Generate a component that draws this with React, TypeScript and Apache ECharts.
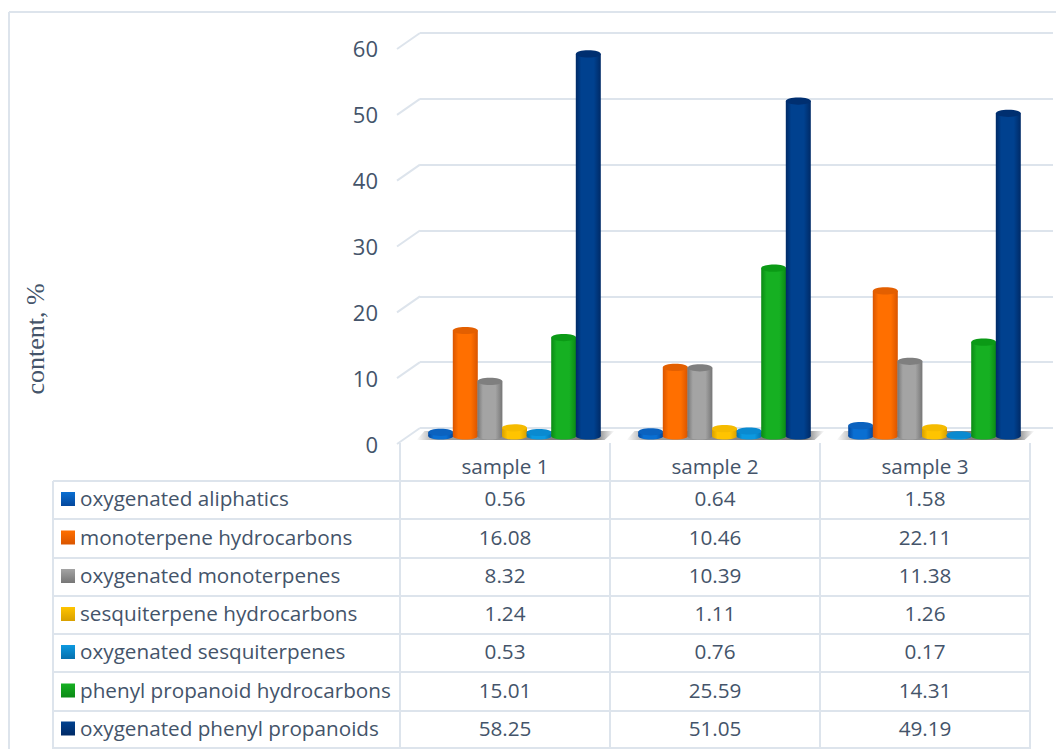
import React, { useEffect, useRef } from "react";
import * as echarts from "echarts";

const samples = ["sample 1", "sample 2", "sample 3"];
const groups = [
  "oxygenated aliphatics",
  "monoterpene hydrocarbons",
  "oxygenated monoterpenes",
  "sesquiterpene hydrocarbons",
  "oxygenated sesquiterpenes",
  "phenyl propanoid hydrocarbons",
  "oxygenated phenyl propanoids",
];
const aliphatics = [0.56, 0.64, 1.58];
const monoHydro = [16.08, 10.46, 22.11];
const monoOxy = [8.32, 10.39, 11.38];
const sesquiHydro = [1.24, 1.11, 1.26];
const sesquiOxy = [0.53, 0.76, 0.17];
const phenylHydro = [15.01, 25.59, 14.31];
const phenylOxy = [58.25, 51.05, 49.19];
const seriesValues = [aliphatics, monoHydro, monoOxy, sesquiHydro, sesquiOxy, phenylHydro, phenylOxy];
const yTicks = [0, 10, 20, 30, 40, 50, 60];

// body colours per group: [edge, centre, cap]
const palette = [
  ["#04479c", "#0a6fd2", "#0b62bf"],
  ["#d95500", "#ff6f00", "#e35f00"],
  ["#767676", "#a4a4a4", "#7f7f7f"],
  ["#d8a000", "#ffc400", "#f5bb00"],
  ["#0670ad", "#0c99e0", "#0a8ad0"],
  ["#0b8a15", "#16b022", "#0b9a16"],
  ["#002a66", "#00418f", "#002f70"],
];

const INK = "#44546a";
const LINE = "#dde4ec";
const SANS = "'Open Sans', 'Noto Sans', sans-serif";
const rowLines = [481, 519, 558, 596, 634, 672, 711, 748];
const columnLines = [400, 610, 820, 1030];

const bodyFill = (i: number) => ({
  type: "linear", x: 0, y: 0, x2: 1, y2: 0,
  colorStops: [
    { offset: 0, color: palette[i][0] },
    { offset: 0.22, color: palette[i][1] },
    { offset: 0.72, color: palette[i][1] },
    { offset: 1, color: palette[i][0] },
  ],
});

// one 3D column: a rectangle closed by two ellipses, placed through the value scale
const cylinder = (i: number) => (params: any, api: any) => {
  const band = api.size([1, 0])[0];
  const step = band * (24.6 / 210);
  const w = band * (25 / 210);
  const [cx, top] = api.coord([api.value(0), api.value(1)]);
  const [, base] = api.coord([api.value(0), 0]);
  const x = cx + (i - 3) * step;
  const ry = 3.6;
  return {
    type: "group",
    children: [
      { type: "ellipse", shape: { cx: x, cy: base, rx: w / 2, ry }, style: { fill: bodyFill(i) } },
      { type: "rect", shape: { x: x - w / 2, y: top, width: w, height: base - top }, style: { fill: bodyFill(i) } },
      { type: "ellipse", shape: { cx: x, cy: top, rx: w / 2, ry }, style: { fill: palette[i][2] } },
    ],
  };
};

// soft shadow lying on the floor below each group of columns
const floorShadow = (params: any, api: any) => {
  const [cx, base] = api.coord([api.value(0), 0]);
  return {
    type: "polygon",
    shape: {
      points: [
        [cx - 90, base - 5],
        [cx + 100, base - 5],
        [cx + 90, base + 4],
        [cx - 98, base + 4],
      ],
    },
    style: {
      fill: {
        type: "linear", x: 0, y: 0, x2: 1, y2: 0,
        colorStops: [
          { offset: 0, color: "rgba(120,120,120,0)" },
          { offset: 0.1, color: "rgba(120,120,120,0.7)" },
          { offset: 0.9, color: "rgba(105,105,105,0.95)" },
          { offset: 1, color: "rgba(120,120,120,0)" },
        ],
      },
    },
  };
};

// slanted side-wall stroke leading from the back wall to each tick
const wallStroke = (params: any, api: any) => {
  const [x, y] = api.coord([0, api.value(0)]);
  return {
    type: "line",
    shape: { x1: x, y1: y, x2: x - 23, y2: y + 16 },
    style: { stroke: LINE, lineWidth: 2 },
  };
};

const tableGraphics = () => {
  const elements: any[] = [];
  const hLine = (x1: number, x2: number, y: number) =>
    elements.push({ type: "line", shape: { x1, y1: y, x2, y2: y }, style: { stroke: LINE, lineWidth: 2 } });
  const vLine = (x: number, y1: number, y2: number) =>
    elements.push({ type: "line", shape: { x1: x, y1, x2: x, y2 }, style: { stroke: LINE, lineWidth: 2 } });

  // outer frame
  hLine(9, 1056, 12);
  vLine(9, 12, 749);

  rowLines.forEach((y) => hLine(53, 1030, y));
  vLine(53, 481, 749);
  columnLines.forEach((x) => vLine(x, 443, 749));

  groups.forEach((name, i) => {
    const cy = (rowLines[i] + rowLines[i + 1]) / 2 - 1;
    elements.push({
      type: "rect",
      shape: { x: 61, y: cy - 7, width: 14, height: 14 },
      style: {
        fill: {
          type: "linear", x: 0, y: 0, x2: 0, y2: 1,
          colorStops: [
            { offset: 0, color: palette[i][1] },
            { offset: 1, color: palette[i][0] },
          ],
        },
      },
    });
    elements.push({
      type: "text", x: 80, y: cy - 1,
      style: { text: name, fill: INK, font: `20.7px ${SANS}`, textAlign: "left", textVerticalAlign: "middle" },
    });
    samples.forEach((_, s) => {
      elements.push({
        type: "text", x: (columnLines[s] + columnLines[s + 1]) / 2, y: cy - 1,
        style: {
          text: seriesValues[i][s].toFixed(2), fill: INK, font: `20.7px ${SANS}`,
          textAlign: "center", textVerticalAlign: "middle",
        },
      });
    });
  });

  elements.push({
    type: "text", x: 35, y: 339, rotation: Math.PI / 2,
    style: {
      text: "content, %", fill: INK, font: "26px 'Liberation Serif', serif",
      textAlign: "center", textVerticalAlign: "middle",
    },
  });
  return elements;
};

export default function App() {
  const ref = useRef<HTMLDivElement>(null);

  useEffect(() => {
    const chart = echarts.init(ref.current!, null, { renderer: "svg" });
    const valueAxis = { type: "value", min: 0, max: 60, interval: 10 };
    chart.setOption({
      animation: false,
      backgroundColor: "#ffffff",
      grid: [
        { left: 400, width: 630, top: 48, height: 396 }, // tick labels and sample names
        { left: 420, width: 633, top: 33, height: 395 }, // back wall
        { left: 409.5, width: 630, top: 42.4, height: 393.6 }, // columns
      ],
      xAxis: [
        {
          gridIndex: 0, type: "category", data: samples,
          axisLine: { show: false }, axisTick: { show: false },
          axisLabel: { color: INK, fontFamily: SANS, fontSize: 20.7, margin: 11 },
        },
        { gridIndex: 1, type: "value", min: 0, max: 1, show: false },
        { gridIndex: 2, type: "category", data: samples, show: false },
      ],
      yAxis: [
        {
          ...valueAxis, gridIndex: 0,
          axisLine: { show: false }, axisTick: { show: false }, splitLine: { show: false },
          axisLabel: { color: INK, fontFamily: SANS, fontSize: 22, margin: 22 },
        },
        {
          ...valueAxis, gridIndex: 1,
          axisLine: { show: false }, axisTick: { show: false }, axisLabel: { show: false },
          splitLine: { show: true, lineStyle: { color: LINE, width: 2 } },
        },
        { ...valueAxis, gridIndex: 2, show: false },
      ],
      series: [
        {
          type: "custom", xAxisIndex: 1, yAxisIndex: 1, clip: false, silent: true, z: 2,
          data: yTicks.map((v) => [v]), encode: { y: 0 },
          renderItem: wallStroke,
        },
        {
          type: "custom", xAxisIndex: 2, yAxisIndex: 2, clip: false, silent: true, z: 3,
          data: samples.map((_, s) => [s]),
          renderItem: floorShadow,
        },
        ...groups.map((name, i) => ({
          name,
          type: "custom",
          xAxisIndex: 2,
          yAxisIndex: 2,
          clip: false,
          z: 4,
          data: seriesValues[i].map((v, s) => [s, v]),
          renderItem: cylinder(i),
        })),
      ],
      graphic: tableGraphics(),
    });
    return () => chart.dispose();
  }, []);

  return <div ref={ref} style={{ position: "absolute", left: 0, top: 0, width: 1056, height: 749 }} />;
}
